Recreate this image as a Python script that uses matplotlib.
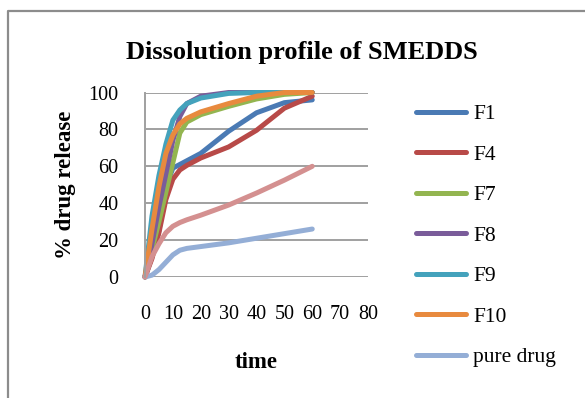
import matplotlib.pyplot as plt
from matplotlib.lines import Line2D

# time points and % drug release
time = [0, 2.5, 5, 7.5, 10, 12.5, 15, 20, 30, 40, 50, 60]
f1 = [0, 11, 25, 49, 59, 61, 63, 67, 79, 89, 94.5, 96]
f4 = [0, 10, 24, 42, 53, 58, 60.5, 64.5, 70.5, 79.5, 91.5, 98]
f7 = [0, 15, 30, 46, 62, 78, 84, 88, 92.5, 96.5, 99, 100]
f8 = [0, 18, 38, 56, 74, 87, 94, 98, 100, 100, 100, 100]
f9 = [0, 33, 55, 72, 85, 90.5, 94, 97, 99.5, 100, 100, 100]
f10 = [0, 26, 49, 67, 77, 83, 86, 89.5, 94, 98, 100, 100]
pure_drug = [0, 1, 4, 8, 12, 14.5, 15.5, 16.5, 18.5, 21, 23.5, 26]
unnamed = [0, 11, 18, 24, 27.5, 29.5, 31, 33.5, 39, 45.5, 52.5, 60]  # 8th series, not in legend

series = [
    ('F1', f1, '#4a7ab4'),
    ('F4', f4, '#b84a48'),
    ('F7', f7, '#93b550'),
    ('F8', f8, '#7a5c9a'),
    ('F9', f9, '#44a2bc'),
    ('F10', f10, '#e88a3e'),
    ('pure drug', pure_drug, '#94aed6'),
    ('_nolegend_', unnamed, '#d49090'),
]

plt.rcParams['font.family'] = 'Liberation Serif'

fig = plt.figure(figsize=(5.85, 3.98), dpi=100)
ax = fig.add_axes([145 / 585, 1 - 277 / 398, 223 / 585, 184.5 / 398])

for name, vals, col in series:
    ax.plot(time, vals, color=col, lw=3.6, label=name,
            solid_joinstyle='round', solid_capstyle='round', clip_on=False)

ax.set_xlim(0, 80)
ax.set_ylim(0, 100)
ax.set_xticks(range(0, 81, 10))
ax.set_yticks(range(0, 101, 20))
ax.tick_params(length=0, labelsize=14.5)
ax.tick_params(axis='x', pad=20)
ax.tick_params(axis='y', pad=19)
ax.grid(axis='y', color='#a0a0a0', lw=1.4)
ax.set_axisbelow(True)
for s in ['top', 'right', 'bottom']:
    ax.spines[s].set_visible(False)
ax.spines['left'].set_color('#a0a0a0')
ax.spines['left'].set_linewidth(1.4)

ax.set_xlabel('time', fontsize=16.5, fontweight='bold', labelpad=20)
ax.set_ylabel('% drug release', fontsize=16.5, fontweight='bold', labelpad=9)
fig.text(302 / 585, 1 - 52 / 398, 'Dissolution profile of SMEDDS',
         fontsize=19, fontweight='bold', ha='center', va='center')

ax.legend(loc='upper left', bbox_to_anchor=(416 / 585, 1 - 104 / 398),
          bbox_transform=fig.transFigure, frameon=False, fontsize=15.5,
          handlelength=2.3, handletextpad=0.35, labelspacing=0.95,
          borderaxespad=0, borderpad=0)

# outer chart border (only left and top visible in the crop)
fig.add_artist(Line2D([7.5 / 585, 7.5 / 585, 1.0], [0.0, 1 - 11 / 398, 1 - 11 / 398],
                      color='#8c8c8c', lw=1.6, transform=fig.transFigure))

fig.savefig('out.png', dpi=100)
